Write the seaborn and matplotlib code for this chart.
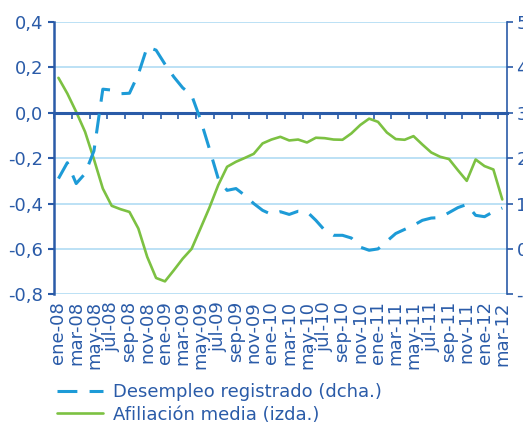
import matplotlib
matplotlib.use('Agg')
import matplotlib.pyplot as plt
import seaborn as sns
import numpy as np
import pandas as pd

# ---- data ----
tick_labels = ['ene-08', 'mar-08', 'may-08', 'jul-08', 'sep-08', 'nov-08',
               'ene-09', 'mar-09', 'may-09', 'jul-09', 'sep-09', 'nov-09',
               'ene-10', 'mar-10', 'may-10', 'jul-10', 'sep-10', 'nov-10',
               'ene-11', 'mar-11', 'may-11', 'jul-11', 'sep-11', 'nov-11',
               'ene-12', 'mar-12']

afiliacion = [0.154, 0.085, 0.004, -0.084, -0.205, -0.334, -0.410, -0.425, -0.437,
              -0.510, -0.635, -0.728, -0.743, -0.694, -0.643, -0.600, -0.510,
              -0.419, -0.319, -0.238, -0.216, -0.199, -0.181, -0.135, -0.118,
              -0.106, -0.122, -0.118, -0.131, -0.110, -0.112, -0.118, -0.119,
              -0.091, -0.054, -0.026, -0.040, -0.087, -0.116, -0.119, -0.103,
              -0.140, -0.175, -0.194, -0.204, -0.253, -0.300, -0.206, -0.235,
              -0.250, -0.382]

desempleo = [1.55, 1.90, 1.44, 1.66, 2.16, 3.52, 3.50, 3.42, 3.43, 3.85, 4.45,
             4.38, 4.07, 3.79, 3.55, 3.39, 2.85, 2.21, 1.55, 1.29, 1.33, 1.18,
             1.00, 0.85, 0.76, 0.82, 0.76, 0.83, 0.82, 0.63, 0.41, 0.30, 0.30,
             0.24, 0.04, -0.03, 0.00, 0.17, 0.34, 0.43, 0.52, 0.63, 0.68, 0.69,
             0.80, 0.91, 0.98, 0.74, 0.71, 0.82, 0.90]

left_ticks = [-0.8, -0.6, -0.4, -0.2, 0.0, 0.2, 0.4]
right_ticks = [-1, 0, 1, 2, 3, 4, 5]

label_desempleo = 'Desempleo registrado (dcha.)'
label_afiliacion = 'Afiliación media (izda.)'

# ---- style ----
TEXT = '#2a5ba8'
GREEN = '#7cc142'
BLUE = '#1d9bd7'
GRID = '#b0dcf4'

sns.set_style('white')
plt.rcParams['font.family'] = ['DejaVu Sans']

fig = plt.figure(figsize=(5.23, 4.30), dpi=100)
ax = fig.add_axes([54 / 523, 1 - 294.3 / 430, (506.7 - 54) / 523, (294.3 - 22) / 430])

df = pd.DataFrame({'idx': np.arange(len(afiliacion)),
                   'afil': afiliacion,
                   'desemp': desempleo})

sns.lineplot(data=df, x='idx', y='afil', ax=ax, color=GREEN, linewidth=1.9,
             legend=False)
ax2 = ax.twinx()
sns.lineplot(data=df, x='idx', y='desemp', ax=ax2, color=BLUE, linewidth=2.2,
             legend=False)
ax2.lines[0].set_dashes([6.5, 4])

ax.set_xlim(-0.5, len(afiliacion) - 0.5)
ax.set_ylim(-0.8, 0.4)
ax2.set_ylim(-1, 5)

ax.set_xlabel('')
ax.set_ylabel('')
ax2.set_xlabel('')
ax2.set_ylabel('')

# y axes
ax.set_yticks(left_ticks)
ax.set_yticklabels([f'{v:.1f}'.replace('.', ',') for v in left_ticks])
ax2.set_yticks(right_ticks)
ax2.set_yticklabels([str(v) for v in right_ticks])

ax.yaxis.grid(True, color=GRID, linewidth=1.2)
ax.xaxis.grid(False)
ax.set_axisbelow(True)

for s in ['top', 'right']:
    ax.spines[s].set_visible(False)
ax.spines['left'].set_color(TEXT)
ax.spines['left'].set_linewidth(1.8)
ax.spines['bottom'].set_position(('data', 0))
ax.spines['bottom'].set_color(TEXT)
ax.spines['bottom'].set_linewidth(2.2)

for s in ['top', 'left', 'bottom']:
    ax2.spines[s].set_visible(False)
ax2.spines['right'].set_color(TEXT)
ax2.spines['right'].set_linewidth(1.2)

ax.tick_params(axis='y', direction='out', length=4, width=1.5, color=TEXT,
               labelcolor=TEXT, labelsize=13, pad=4, left=True)
ax2.tick_params(axis='y', direction='out', length=4, width=1.2, color=TEXT,
                labelcolor=TEXT, labelsize=13, pad=3, right=True)

# tick marks on the zero line (category boundaries)
ax.set_xticks(np.arange(-0.5, len(afiliacion) - 1, 2))
ax.tick_params(axis='x', direction='out', length=4, width=1.2, color=TEXT,
               labelbottom=False, bottom=True)

# category labels at the bottom of the plot area
sec = ax.secondary_xaxis(0)
sec.set_xticks(np.arange(0, len(afiliacion), 2))
sec.set_xticklabels(tick_labels, rotation=90)
sec.tick_params(length=0, pad=5, labelsize=13, labelcolor=TEXT)
sec.spines['bottom'].set_visible(False)

# legend
handles = [ax2.lines[0], ax.lines[0]]
leg = fig.legend(handles, [label_desempleo, label_afiliacion],
                 loc='upper left', bbox_to_anchor=(57 / 523, 1 - 383 / 430),
                 frameon=False, fontsize=13, handlelength=2.55,
                 handletextpad=0.55, borderpad=0, borderaxespad=0,
                 labelspacing=0.25, labelcolor=TEXT)

fig.savefig('out.png', dpi=100)
